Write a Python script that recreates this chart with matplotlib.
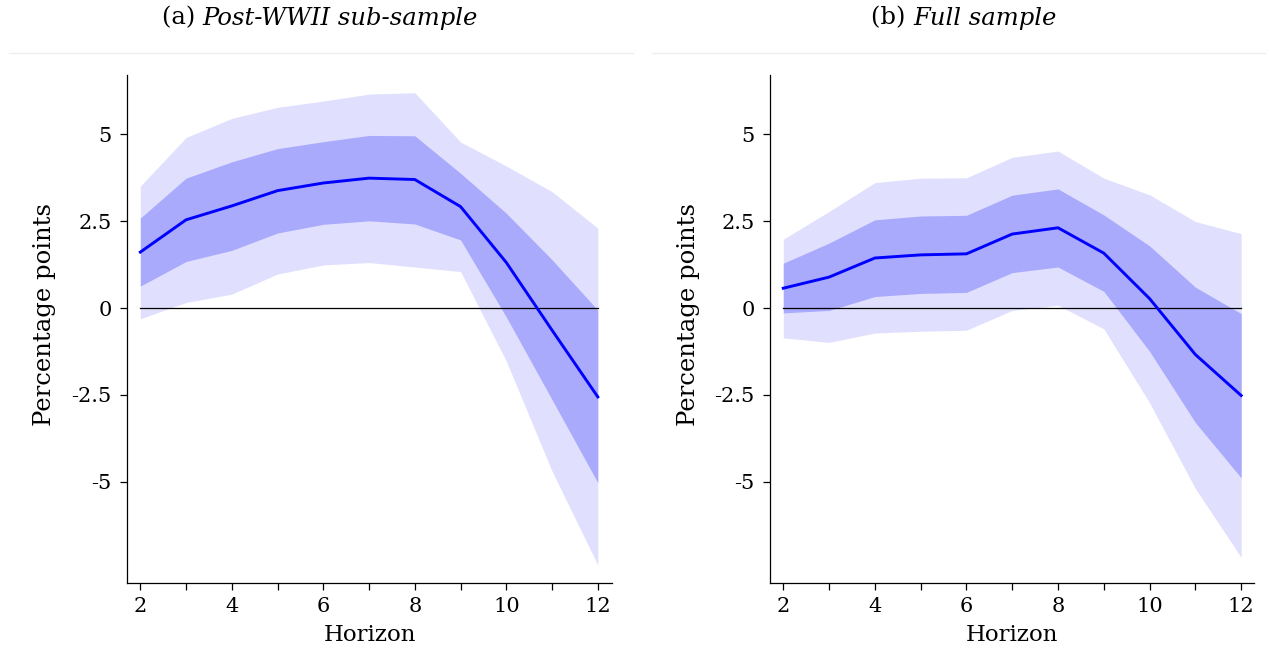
import matplotlib
matplotlib.use("Agg")
import matplotlib.pyplot as plt
from matplotlib.lines import Line2D

plt.rcParams['font.family'] = ['DejaVu Serif']
plt.rcParams['axes.unicode_minus'] = False

# ---------------- data ----------------
horizon = [2, 3, 4, 5, 6, 7, 8, 9, 10, 11, 12]

# (a) Post-WWII sub-sample
post_center = [1.61, 2.54, 2.94, 3.38, 3.60, 3.74, 3.70, 2.92, 1.31, -0.64, -2.56]
post_dark_hi = [2.59, 3.74, 4.21, 4.59, 4.79, 4.97, 4.96, 3.88, 2.73, 1.39, -0.06]
post_dark_lo = [0.63, 1.34, 1.66, 2.16, 2.41, 2.51, 2.42, 1.96, -0.26, -2.64, -5.03]
post_light_hi = [3.51, 4.91, 5.46, 5.78, 5.96, 6.16, 6.20, 4.78, 4.09, 3.35, 2.30]
post_light_lo = [-0.31, 0.16, 0.40, 0.98, 1.24, 1.31, 1.18, 1.05, -1.53, -4.70, -7.40]

# (b) Full sample
full_center = [0.57, 0.89, 1.44, 1.53, 1.56, 2.13, 2.31, 1.58, 0.27, -1.34, -2.52]
full_dark_hi = [1.29, 1.87, 2.54, 2.65, 2.67, 3.25, 3.43, 2.68, 1.79, 0.60, -0.16]
full_dark_lo = [-0.14, -0.07, 0.33, 0.42, 0.45, 1.02, 1.18, 0.48, -1.25, -3.30, -4.89]
full_light_hi = [1.98, 2.78, 3.61, 3.74, 3.75, 4.34, 4.52, 3.74, 3.26, 2.49, 2.14]
full_light_lo = [-0.86, -0.99, -0.72, -0.67, -0.64, -0.07, 0.08, -0.60, -2.73, -5.20, -7.18]

yticks = [-5, -2.5, 0, 2.5, 5]
ytick_labels = ["-5", "-2.5", "0", "2.5", "5"]
xticks_labeled = [2, 4, 6, 8, 10, 12]

title_prefix = ["(a)", "(b)"]
title_main = ["Post-WWII sub-sample", "Full sample"]
ylabel = "Percentage points"
xlabel = "Horizon"

# ---------------- figure ----------------
W, H = 1270, 652
fig = plt.figure(figsize=(W / 100, H / 100), dpi=100)

LIGHT = "#e0e0fe"
DARK = "#aaaafc"
LINE = "#0000ff"

panels = [
    (post_center, post_dark_hi, post_dark_lo, post_light_hi, post_light_lo),
    (full_center, full_dark_hi, full_dark_lo, full_light_hi, full_light_lo),
]
ax_left_px = [127, 770]
ax_right_px = [612, 1254]
ax_top_px, ax_bot_px = 75, 582.7
xlims = [(1.709, 12.31), (1.71, 12.28)]

title_centers = [320, 964]
sep_px = [(9, 633), (652, 1265)]

for i, (c, dh, dl, lh, ll) in enumerate(panels):
    l = ax_left_px[i] / W
    w = (ax_right_px[i] - ax_left_px[i]) / W
    b = 1 - ax_bot_px / H
    h = (ax_bot_px - ax_top_px) / H
    ax = fig.add_axes([l, b, w, h])
    ax.fill_between(horizon, ll, lh, color=LIGHT, lw=0, zorder=1)
    ax.fill_between(horizon, dl, dh, color=DARK, lw=0, zorder=2)
    ax.plot([horizon[0], horizon[-1]], [0, 0], color="black", lw=0.9, zorder=3)
    ax.plot(horizon, c, color=LINE, lw=2.1, zorder=4)

    ax.set_xlim(*xlims[i])
    ax.set_ylim(-7.91, 6.71)
    ax.set_xticks(horizon)
    ax.set_xticklabels([str(x) if x in xticks_labeled else "" for x in horizon])
    ax.set_yticks(yticks)
    ax.set_yticklabels(ytick_labels)
    ax.tick_params(axis="both", direction="out", length=5, width=0.9,
                   labelsize=15, color="black")
    ax.tick_params(axis="x", pad=5)
    ax.tick_params(axis="y", pad=6)
    for s in ["top", "right"]:
        ax.spines[s].set_visible(False)
    for s in ["left", "bottom"]:
        ax.spines[s].set_linewidth(0.9)

    xc = (ax_left_px[i] + ax_right_px[i]) / 2
    fig.text(xc / W, 1 - 635 / H, xlabel, ha="center", va="center", fontsize=16.5)
    fig.text((ax_left_px[i] - 82) / W, 1 - 315 / H, ylabel, rotation=90,
             ha="center", va="center", fontsize=17.5)

    # title: upright prefix + italic main text, centred as a whole
    t1 = fig.text(0, 1 - 18 / H, title_prefix[i] + " ", ha="left", va="center", fontsize=17.5)
    t2 = fig.text(0, 1 - 18 / H, title_main[i], ha="left", va="center",
                  fontsize=17.5, style="italic")
    fig.canvas.draw()
    r = fig.canvas.get_renderer()
    w1 = t1.get_window_extent(r).width
    w2 = t2.get_window_extent(r).width
    start = title_centers[i] - (w1 + w2) / 2
    t1.set_x(start / W)
    t2.set_x((start + w1) / W)

    x0, x1 = sep_px[i]
    fig.add_artist(Line2D([x0 / W, x1 / W], [1 - 53 / H, 1 - 53 / H],
                          color="#eeeeee", lw=1.0, transform=fig.transFigure))

fig.savefig("out.png", dpi=100)
